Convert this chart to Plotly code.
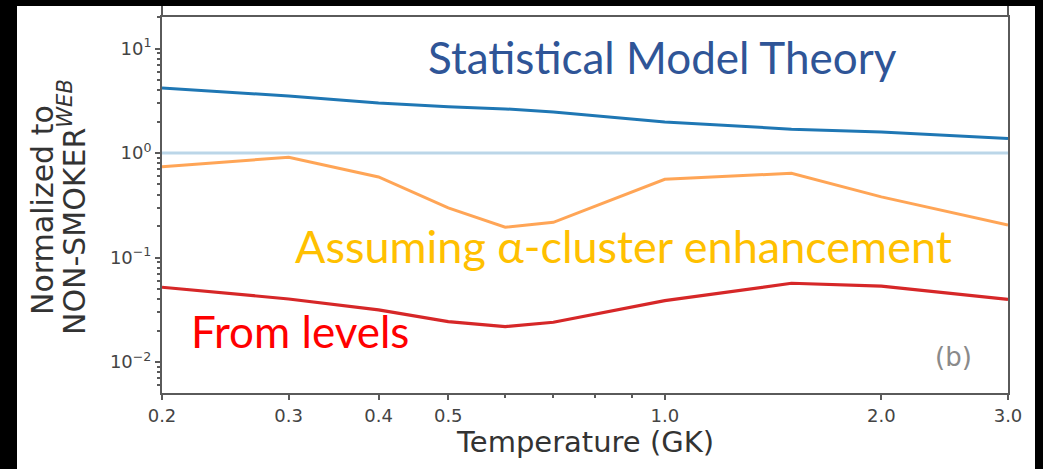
import plotly.graph_objects as go

# Temperature grid (GK) and rates normalised to NON-SMOKER^WEB
temperature = [0.2, 0.3, 0.4, 0.5, 0.6, 0.7, 1.0, 1.5, 2.0, 3.0]
statistical_model = [4.19, 3.51, 3.01, 2.77, 2.64, 2.47, 1.98, 1.69, 1.59, 1.38]
alpha_cluster = [0.74, 0.91, 0.59, 0.298, 0.195, 0.217, 0.56, 0.64, 0.38, 0.205]
from_levels = [0.0519, 0.0401, 0.0315, 0.0243, 0.0218, 0.024, 0.0386, 0.0567, 0.0533, 0.0398]
reference_t = [0.2, 3.0]
reference = [1.0, 1.0]

x_major = [0.2, 0.3, 0.4, 0.5, 1.0, 2.0, 3.0]
x_major_text = ["0.2", "0.3", "0.4", "0.5", "1.0", "2.0", "3.0"]
x_minor = [0.6, 0.7, 0.8, 0.9]
y_major = [10, 1, 0.1, 0.01]
y_major_text = ["10<sup>1</sup>", "10<sup>0</sup>", "10<sup>−1</sup>", "10<sup>−2</sup>"]
y_minor = [m * 10 ** k for k in range(-3, 2) for m in range(2, 10)]

W, H = 1043, 469
L, R, T, B = 162, 35, 17, 76
pw, ph = W - L - R, H - T - B


def px(x):
    return (x - L) / pw


def py(y):
    return (H - B - y) / ph


fig = go.Figure()
fig.add_trace(go.Scatter(x=reference_t, y=reference, mode="lines",
                         line=dict(color="rgba(31,119,180,0.3)", width=3)))
fig.add_trace(go.Scatter(x=temperature, y=statistical_model, mode="lines",
                         line=dict(color="#1f77b4", width=3)))
fig.add_trace(go.Scatter(x=temperature, y=alpha_cluster, mode="lines",
                         line=dict(color="rgba(255,127,14,0.7)", width=3)))
fig.add_trace(go.Scatter(x=temperature, y=from_levels, mode="lines",
                         line=dict(color="#d62728", width=3.2)))

axis_font = dict(family="DejaVu Sans", size=18, color="#444")
frame = "#5a5a5a"

fig.update_xaxes(type="log", range=[-0.69897, 0.47712],
                 tickvals=x_major, ticktext=x_major_text,
                 ticks="outside", ticklen=5, tickwidth=1.5, tickcolor=frame,
                 minor=dict(tickvals=x_minor, ticks="outside", ticklen=3, tickcolor=frame),
                 showgrid=False, zeroline=False, showline=True, mirror=True,
                 linecolor=frame, linewidth=2, tickfont=axis_font)
fig.update_yaxes(type="log", range=[-2.2967, 1.3014],
                 tickvals=y_major, ticktext=y_major_text,
                 ticks="outside", ticklen=5, tickwidth=1.5, tickcolor=frame,
                 minor=dict(tickvals=y_minor, ticks="outside", ticklen=3, tickcolor=frame),
                 showgrid=False, zeroline=False, showline=True, mirror=True,
                 linecolor=frame, linewidth=2, tickfont=axis_font)

shapes = [
    # white canvas inside the black border
    dict(type="rect", xref="paper", yref="paper", layer="below",
         x0=px(17), x1=px(1035), y0=py(469), y1=py(6),
         fillcolor="white", line=dict(width=0)),
    # side spines continue above the top frame line
    dict(type="line", xref="paper", yref="paper", x0=0, x1=0, y0=1, y1=py(6),
         line=dict(color=frame, width=2)),
    dict(type="line", xref="paper", yref="paper", x0=1, x1=1, y0=1, y1=py(6),
         line=dict(color=frame, width=2)),
]

title_font = dict(family="DejaVu Sans", size=30, color="#333")
annotations = [
    dict(text="Temperature (GK)", x=0.5, y=py(442), xref="paper", yref="paper",
         xanchor="center", yanchor="middle", showarrow=False,
         font=dict(family="DejaVu Sans", size=29, color="#333")),
    dict(text="Normalized to", x=px(42), y=py(210),
         xref="paper", yref="paper", xanchor="center", yanchor="middle",
         textangle=-90, showarrow=False, font=title_font),
    dict(text="NON-SMOKER<sup><i>WEB</i></sup>", x=px(73), y=py(207),
         xref="paper", yref="paper", xanchor="center", yanchor="middle",
         textangle=-90, showarrow=False, font=title_font),
    dict(text="Statistical Model Theory", x=px(662), y=py(57), xref="paper", yref="paper",
         xanchor="center", yanchor="middle", showarrow=False,
         font=dict(family="Lato", size=44, color="#2F5597")),
    dict(text="Assuming α-cluster enhancement", x=px(623), y=py(246), xref="paper", yref="paper",
         xanchor="center", yanchor="middle", showarrow=False,
         font=dict(family="Lato", size=45, color="#FFC000")),
    dict(text="From levels", x=px(300), y=py(331), xref="paper", yref="paper",
         xanchor="center", yanchor="middle", showarrow=False,
         font=dict(family="Lato", size=44, color="#FF0000")),
    dict(text="(b)", x=px(953), y=py(357), xref="paper", yref="paper",
         xanchor="center", yanchor="middle", showarrow=False,
         font=dict(family="DejaVu Sans", size=26, color="#8a8a8a")),
]

fig.update_layout(width=W, height=H, margin=dict(l=L, r=R, t=T, b=B),
                  paper_bgcolor="black", plot_bgcolor="white",
                  showlegend=False, shapes=shapes, annotations=annotations)

fig.write_html("out.html")
